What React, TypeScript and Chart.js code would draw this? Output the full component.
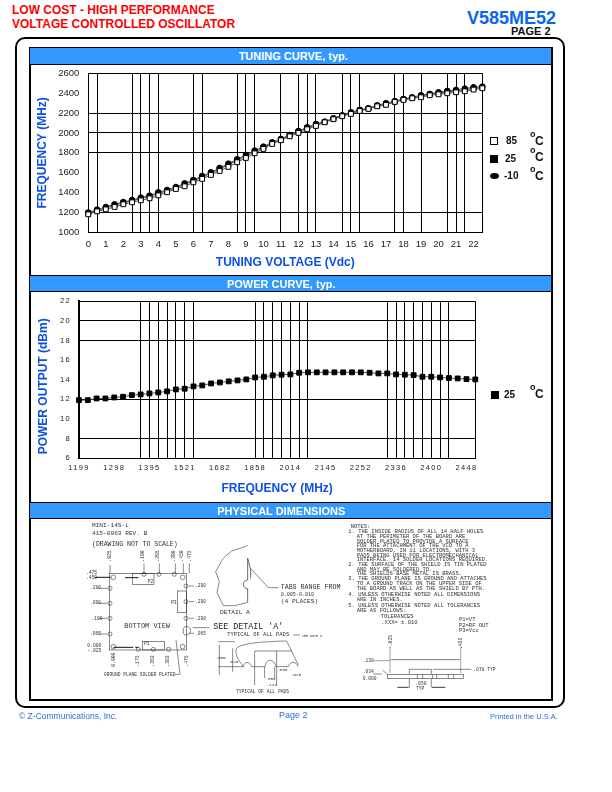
import React, { useEffect, useRef } from "react";
import { Chart, registerables } from "chart.js";

Chart.register(...registerables);

const FONT = '"Liberation Sans", Arial, sans-serif';
const MONO = '"Liberation Mono", monospace';
const BLUE = "#0b4fe8";

const tuningVolts = [0,0.5,1,1.5,2,2.5,3,3.5,4,4.5,5,5.5,6,6.5,7,7.5,8,8.5,9,9.5,10,10.5,11,11.5,12,12.5,13,13.5,14,14.5,15,15.5,16,16.5,17,17.5,18,18.5,19,19.5,20,20.5,21,21.5,22,22.5];
const freqMinus10 = [1200,1228,1255,1282,1305,1325,1349,1369,1403,1426,1456,1493,1527,1567,1604,1648,1691,1735,1779,1822,1862,1906,1940,1980,2020,2057,2090,2114,2148,2178,2208,2232,2248,2278,2299,2319,2342,2359,2379,2393,2409,2423,2433,2446,2460,2466];
const freq25 = [1192,1220,1246,1272,1296,1316,1339,1360,1392,1417,1447,1482,1517,1556,1592,1636,1679,1724,1767,1812,1853,1897,1933,1973,2012,2050,2083,2110,2143,2173,2201,2228,2245,2273,2291,2316,2337,2354,2370,2388,2400,2414,2423,2435,2449,2458];
const freq85 = [1181,1211,1231,1255,1282,1302,1322,1342,1372,1403,1436,1463,1503,1537,1577,1617,1658,1705,1748,1795,1839,1889,1926,1966,2000,2037,2070,2107,2138,2168,2191,2221,2242,2268,2282,2312,2332,2349,2359,2379,2389,2399,2409,2419,2436,2450];
const tuningVGrid = [0,0.5,2.5,3,3.5,4,6,6.5,8.5,9,9.5,11,12,12.5,13,14.5,15,15.5,17.5,18,19,20.5,21,21.5,22.5];
const tuningYGrid = [1000,1200,1800,2000,2200,2600];
const tuningYTicks = [1000,1200,1400,1600,1800,2000,2200,2400,2600];

const powerLabels = ["1199","","","","1298","","","","1395","","","","1521","","","","1682","","","","1858","","","","2014","","","","2145","","","","2252","","","","2336","","","","2400","","","","2448",""];
const powerDbm = [11.93,11.93,12.1,12.1,12.2,12.27,12.44,12.51,12.61,12.71,12.82,13.02,13.09,13.33,13.43,13.63,13.73,13.84,13.94,14.04,14.24,14.31,14.45,14.52,14.55,14.72,14.76,14.76,14.76,14.76,14.76,14.76,14.76,14.72,14.65,14.65,14.55,14.52,14.48,14.31,14.31,14.24,14.18,14.14,14.07,14.04];
const powerXGrid = [0,7,8,9,10,11,12,13,20,21,22,23,24,25,26,35,36,37,38,39,40,41,42,45];
const powerYGrid = [6,8,12,18,20,22];
const powerYTicks = [6,8,10,12,14,16,18,20,22];

const noteLines: [string, number, number][] = [
  ["NOTES:", 122, 34],
  ["1. THE INSIDE RADIUS OF ALL 14 HALF HOLES", 115, 50],
  ["AT THE PERIMETER OF THE BOARD ARE", 140, 64],
  ["SOLDER PLATED TO PROVIDE A SURFACE", 140, 78],
  ["FOR THE ATTACHMENT OF THE VCO TO A", 140, 92],
  ["MOTHERBOARD, IN 11 LOCATIONS, WITH 3", 140, 106],
  ["PADS BEING USED FOR ELECTROMECHANICAL", 140, 120],
  ["INTERFACE. 14 SOLDER LOCATIONS REQUIRED.", 140, 134],
  ["2. THE SURFACE OF THE SHIELD IS TIN PLATED", 115, 148],
  ["AND MAY BE SOLDERED TO.", 140, 162],
  ["THE SHIELDS BASE METAL IS BRASS.", 140, 176],
  ["3. THE GROUND PLANE IS GROUND AND ATTACHES", 115, 191],
  ["TO A GROUND TRACK ON THE UPPER SIDE OF", 140, 205],
  ["THE BOARD AS WELL AS THE SHIELD BY PTH.", 140, 219],
  ["4. UNLESS OTHERWISE NOTED ALL DIMENSIONS", 115, 237],
  ["ARE IN INCHES.", 140, 253],
  ["5. UNLESS OTHERWISE NOTED ALL TOLERANCES", 115, 271],
  ["ARE AS FOLLOWS:", 140, 287],
  ["TOLERANCES", 212, 305],
  [".XXX= \u00b1.010", 214, 323],
  ["P1=VT", 447, 314],
  ["P2=RF OUT", 447, 330],
  ["P3=Vcc", 447, 346],
];

function powerAxisTweaks(letterSpacing: string, titleShift: number) {
  return {
    id: "powerAxisTweaks",
    afterLayout(chart: any) {
      Object.values(chart.scales).forEach((scale: any) => {
        if (scale.__tweaked) return;
        scale.__tweaked = true;
        const origLabels = scale.drawLabels.bind(scale);
        scale.drawLabels = (area: any) => {
          const ctx = chart.ctx;
          ctx.save();
          ctx.letterSpacing = letterSpacing;
          origLabels(area);
          ctx.restore();
        };
        if (scale.axis === "y") {
          const origTitle = scale.drawTitle.bind(scale);
          scale.drawTitle = () => {
            const ctx = chart.ctx;
            ctx.save();
            ctx.translate(0, titleShift);
            origTitle();
            ctx.restore();
          };
        }
      });
    },
  };
}

function gridColor(vals: number[], v: number) {
  return vals.some((g) => Math.abs(g - v) < 0.001) ? "#000" : "rgba(0,0,0,0)";
}

const zeroPadY = (s: any, w: number) => { s.width = w; s.paddingTop = 0; s.paddingBottom = 0; };
const zeroPadX = (s: any, h: number) => { s.height = h; s.paddingLeft = 0; s.paddingRight = 0; };

function TuningChart() {
  const ref = useRef<HTMLCanvasElement>(null);
  useEffect(() => {
    const line = "#555";
    const chart = new Chart(ref.current!, {
      type: "line",
      data: {
        datasets: [
          { label: "-10 \u00b0C", data: tuningVolts.map((x, i) => ({ x, y: freqMinus10[i] })), borderColor: line, borderWidth: 1, pointStyle: "circle", pointRadius: 2.8, pointBackgroundColor: "#000", pointBorderColor: "#000", order: 3 },
          { label: "25 \u00b0C", data: tuningVolts.map((x, i) => ({ x, y: freq25[i] })), borderColor: line, borderWidth: 1, pointStyle: "rect", pointRadius: 3.4, pointBackgroundColor: "#000", pointBorderColor: "#000", order: 2 },
          { label: "85 \u00b0C", data: tuningVolts.map((x, i) => ({ x, y: freq85[i] })), borderColor: line, borderWidth: 1, pointStyle: "rect", pointRadius: 3.4, pointBackgroundColor: "#fff", pointBorderColor: "#000", pointBorderWidth: 1, order: 1 },
        ],
      },
      options: {
        animation: false,
        responsive: false,
        clip: false,
        layout: { padding: { top: 9.3, right: 67.7, left: 0, bottom: 0 } },
        plugins: { legend: { display: false }, tooltip: { enabled: false } },
        scales: {
          x: {
            type: "linear",
            min: 0,
            max: 22.5,
            afterBuildTicks: (s: any) => { s.ticks = tuningVolts.map((value) => ({ value })); },
            afterFit: (s: any) => zeroPadX(s, 42.7),
            grid: { drawTicks: false, lineWidth: 1, color: (c: any) => gridColor(tuningVGrid, c.tick?.value) },
            border: { color: "#000", width: 1 },
            ticks: { autoSkip: false, maxRotation: 0, padding: 6, color: "#222", font: { family: FONT, size: 9.5 }, callback: (v: any) => (Number.isInteger(v) ? String(v) : "") },
            title: { display: true, text: "TUNING VOLTAGE (Vdc)", color: BLUE, padding: { top: 0, bottom: 5 }, font: { family: FONT, size: 12, weight: "bold" } },
          },
          y: {
            min: 1000,
            max: 2600,
            afterBuildTicks: (s: any) => { s.ticks = tuningYTicks.map((value) => ({ value })); },
            afterFit: (s: any) => zeroPadY(s, 58.3),
            grid: { drawTicks: false, lineWidth: 1, color: (c: any) => gridColor(tuningYGrid, c.tick?.value) },
            border: { color: "#000", width: 1 },
            ticks: { padding: 9, color: "#222", font: { family: FONT, size: 9.5 }, callback: (v: any) => String(v) },
            title: { display: true, text: "FREQUENCY (MHz)", color: BLUE, padding: { top: 5, bottom: 0 }, font: { family: FONT, size: 12, weight: "bold" } },
          },
        },
      },
    } as any);
    return () => chart.destroy();
  }, []);
  return <canvas ref={ref} width={520} height={211} style={{ position: "absolute", left: 30, top: 64, width: 520, height: 211 }} />;
}

function PowerChart() {
  const ref = useRef<HTMLCanvasElement>(null);
  useEffect(() => {
    const chart = new Chart(ref.current!, {
      type: "line",
      data: {
        labels: powerLabels,
        datasets: [
          { label: "25 \u00b0C", data: powerDbm, borderColor: "#555", borderWidth: 1, pointStyle: "rect", pointRadius: 3.4, pointBackgroundColor: "#000", pointBorderColor: "#000" },
        ],
      },
      options: {
        animation: false,
        responsive: false,
        clip: false,
        layout: { padding: { top: 10.3, right: 74.7, left: 0, bottom: 0 } },
        plugins: { legend: { display: false }, tooltip: { enabled: false } },
        scales: {
          x: {
            type: "category",
            offset: false,
            afterFit: (s: any) => zeroPadX(s, 43.7),
            grid: { drawTicks: false, lineWidth: 1, color: (c: any) => gridColor(powerXGrid, c.index) },
            border: { color: "#000", width: 1 },
            ticks: { autoSkip: false, maxRotation: 0, padding: 5, color: "#222", font: { family: FONT, size: 7.5 } },
            title: { display: true, text: "FREQUENCY (MHz)", color: BLUE, padding: { top: 0, bottom: 6 }, font: { family: FONT, size: 12, weight: "bold" } },
          },
          y: {
            min: 6,
            max: 22,
            afterBuildTicks: (s: any) => { s.ticks = powerYTicks.map((value) => ({ value })); },
            afterFit: (s: any) => zeroPadY(s, 49),
            grid: { drawTicks: false, lineWidth: 1, color: (c: any) => gridColor(powerYGrid, c.tick?.value) },
            border: { color: "#000", width: 2 },
            ticks: { padding: 8, color: "#222", font: { family: FONT, size: 7.5 } },
            title: { display: true, text: "POWER OUTPUT (dBm)", color: BLUE, padding: { top: 6, bottom: 0 }, font: { family: FONT, size: 12, weight: "bold" } },
          },
        },
      },
      plugins: [powerAxisTweaks("1.3px", 6.5)],
    } as any);
    return () => chart.destroy();
  }, []);
  return <canvas ref={ref} width={520} height={211} style={{ position: "absolute", left: 30, top: 291, width: 520, height: 211 }} />;
}

const abs = (left: number, top: number, extra: React.CSSProperties = {}): React.CSSProperties => ({ position: "absolute", left, top, whiteSpace: "nowrap", fontFamily: FONT, lineHeight: 1, ...extra });

function Band({ top, text, shift }: { top: number; text: string; shift: number }) {
  return (
    <div style={{ position: "absolute", left: 30, top, width: 520.5, height: 15.5, background: "#3399ff", borderTop: "1.5px solid #000", borderBottom: "1.5px solid #000" }}>
      <div style={{ position: "absolute", left: shift, width: 520.5, color: "#fff", fontFamily: FONT, fontWeight: "bold", fontSize: 11, lineHeight: "16px", textAlign: "center" }}>{text}</div>
    </div>
  );
}

function LegendRow({ top, left, label, mark, deg }: { top: number; left: number; label: string; mark: React.ReactNode; deg: number }) {
  return (
    <>
      {mark}
      <div style={abs(left, top, { fontSize: 10, fontWeight: "bold", color: "#111" })}>{label}</div>
      <div style={abs(530, deg - 5, { fontSize: 9, fontWeight: "bold", color: "#111" })}>o</div>
      <div style={abs(535, deg, { fontSize: 12, fontWeight: "bold", color: "#111" })}>C</div>
    </>
  );
}

function Drawing() {
  const s = { stroke: "#222", strokeWidth: 1.6, fill: "none" } as const;
  const t = { fontFamily: MONO, fontSize: 16.5, fill: "#333" } as const;
  const holes: [number, number, number][] = [[130,187,7],[338,187,7],[130,395,7],[338,395,7],[222,178,6],[267,178,6],[313,178,6],[120,220,6],[120,265,6],[120,310,6],[120,357,6],[348,213,6],[348,260,6],[348,310,6],[205,403,6],[250,403,6],[296,403,6]];
  const dims: [string, number, number][] = [[".475",48,176],[".450",48,191],[".290",60,223],[".090",60,268],[".190",64,314],[".065",60,360],["0.000",52,396],["-.025",52,410],[".290",375,217],[".290",375,263],[".290",375,314],[".065",375,361]];
  const vdims: [string, number, number][] = [[".825",122,140],[".190",222,140],[".295",268,140],[".390",316,140],[".450",340,140],[".475",362,140],["0.000",136,455],[".175",207,455],[".263",252,455],[".363",298,455],[".475",355,455]];
  return (
    <svg width={612} height={792} style={{ position: "absolute", left: 0, top: 0 }}>
      <g transform="translate(70,515) scale(0.3333)">
        <text {...t} fontSize={18.5} x={66} y={36}>MINI-14S-L</text>
        <text {...t} fontSize={18.5} x={66} y={60}>415-0063 REV. B</text>
        <text {...t} fontSize={19.5} x={66} y={93}>(DRAWING NOT TO SCALE)</text>
        <rect {...s} x={118} y={175} width={232} height={230} />
        <rect {...s} x={188} y={175} width={64} height={33} />
        <rect {...s} x={322} y={228} width={28} height={64} />
        <rect {...s} x={217} y={380} width={67} height={25} />
        {holes.map(([x, y, r], i) => <circle key={i} {...s} cx={x} cy={y} r={r} />)}
        <path d="M75 187H122M165 188H205M130 397H205" stroke="#111" strokeWidth={3} fill="none" strokeDasharray="60 6" />
        <path {...s} d="M120 150V175M222 145V175M268 145V175M316 145V175M340 145V175M358 145V175M85 220H112M85 265H112M85 310H112M85 357H112M356 213H372M356 260H372M356 310H372M356 355H372" />
        <path {...s} d="M340 340C345 330 360 335 362 345C362 360 345 365 340 355Z" />
        <path {...s} d="M368 338H418M318 375L330 478H316" />
        {dims.map(([v, x, y], i) => <text key={i} {...t} fontSize={14} x={x} y={y}>{v}</text>)}
        {vdims.map(([v, x, y], i) => <text key={i} {...t} fontSize={14} transform={`translate(${x},${y}) rotate(-90)`}>{v}</text>)}
        <text {...t} fontSize={20.8} x={163} y={338}>BOTTOM VIEW</text>
        <text {...t} fontSize={14} x={303} y={267}>P3</text>
        <text {...t} fontSize={14} x={233} y={203}>P2</text>
        <text {...t} fontSize={14} x={222} y={391}>P1</text>
        <text {...t} fontSize={13.8} x={102} y={482}>GROUND PLANE SOLDER PLATED</text>
        <path {...s} d="M533 92L510 100L485 108L465 125L458 132L437 170L448 200L441 232L460 272L495 272L533 262" />
        <path {...s} strokeWidth={2} d="M533 130V195A13 13 0 0 0 533 221V262M533 130L542 165V190" />
        <path {...s} d="M542 160L595 218H625" />
        <text {...t} fontSize={18.7} x={450} y={298}>DETAIL A</text>
        <text {...t} fontSize={20} x={632} y={223}>TABS RANGE FROM</text>
        <text {...t} fontSize={15.3} x={632} y={244}>0.005-0.010</text>
        <text {...t} fontSize={18.8} x={632} y={265}>(4 PLACES)</text>
        <text fontFamily={MONO} fontSize={25} fill="#222" x={430} y={342}>SEE DETAIL 'A'</text>
        <text {...t} fontSize={16.3} x={472} y={364}>TYPICAL OF ALL PADS</text>
        <text {...t} fontSize={10} x={696} y={365}>SEE NOTE 3</text>
        <path {...s} d="M445 380H495M445 455H520M498 402C510 385 570 380 650 378L685 450M498 402C495 425 510 440 520 455C522 438 540 438 545 455H585C588 430 612 430 618 455H655C660 438 680 438 684 455" />
        <path {...s} d="M554 408V510M620 408V510M584 455V490M614 455V490M555 408H665M488 400V470M448 390V480M670 360H690" />
        <text {...t} fontSize={13} x={436} y={433}>.065</text>
        <text {...t} fontSize={13} x={474} y={443}>.020</text>
        <text {...t} fontSize={13} x={621} y={468}>.030</text>
        <text {...t} fontSize={13} x={662} y={483}>.025</text>
        <text {...t} fontSize={13} x={586} y={496}>.050</text>
        <text {...t} fontSize={13} x={590} y={514}>.114</text>
        <text {...t} fontSize={14} x={498} y={534}>TYPICAL OF ALL PADS</text>
      </g>
      <g transform="translate(310,515) scale(0.3333)">
        {noteLines.map(([v, x, y], i) => <text key={i} {...t} x={x} y={y + 5}>{v}</text>)}
        <path {...s} stroke="#555" d="M240 395V474M452 395V474M190 437H240" />
        <path stroke="#777" strokeWidth={3} d="M242 434H450" fill="none" />
        <rect {...s} x={232} y={478} width={229} height={13} />
        <path {...s} d="M298 478V463H364V478M322 478V491M338 478V491M368 478V491M380 478V491M415 478V491M431 478V491M298 491V518M364 491V518M370 463H484M190 477H216M218 466L230 476" />
        <path stroke="#111" strokeWidth={2.5} d="M262 517H296M366 517H406" fill="none" />
        <text {...t} fontSize={14} transform="translate(245,402) rotate(-90)">-.025</text>
        <text {...t} fontSize={14} transform="translate(457,402) rotate(-90)">.465</text>
        <text {...t} fontSize={14} x={158} y={441}>.130</text>
        <text {...t} fontSize={14} x={158} y={475}>.034</text>
        <text {...t} fontSize={14} x={158} y={494}>0.000</text>
        <text {...t} fontSize={14} x={490} y={468}>.078 TYP</text>
        <text {...t} fontSize={14} x={316} y={510}>.050</text>
        <text {...t} fontSize={14} x={318} y={525}>TYP</text>
      </g>
    </svg>
  );
}

export default function App() {
  return (
    <div style={{ position: "absolute", left: 0, top: 0, width: 612, height: 792, background: "#fff", overflow: "hidden" }}>
      <div style={abs(12, 4, { fontSize: 12, fontWeight: "bold", color: "#ff0000" })}>LOW COST - HIGH PERFORMANCE</div>
      <div style={abs(12, 18, { fontSize: 12, fontWeight: "bold", color: "#ff0000" })}>VOLTAGE CONTROLLED OSCILLATOR</div>
      <div style={abs(467, 9, { fontSize: 18, fontWeight: "bold", color: "#0a66f0" })}>V585ME52</div>
      <div style={abs(511, 26, { fontSize: 11, fontWeight: "bold", color: "#111" })}>PAGE 2</div>

      <div style={{ position: "absolute", left: 15, top: 36.5, width: 546, height: 667, border: "2.5px solid #000", borderRadius: 10 }} />
      <div style={{ position: "absolute", left: 28.5, top: 46.5, width: 520.5, height: 650.5, border: "2.5px solid #000" }} />

      <Band top={47} text="TUNING CURVE, typ." shift={3} />
      <TuningChart />
      <Band top={274.5} text="POWER CURVE, typ." shift={-9} />
      <PowerChart />
      <Band top={501.5} text="PHYSICAL DIMENSIONS" shift={-9} />

      <LegendRow top={136} left={506} label="85" deg={135}
        mark={<div style={{ position: "absolute", left: 490, top: 137, width: 6, height: 6, border: "1px solid #000", background: "#fff" }} />} />
      <LegendRow top={154} left={505} label="25" deg={151}
        mark={<div style={{ position: "absolute", left: 490, top: 155, width: 8, height: 8, background: "#000" }} />} />
      <LegendRow top={171} left={504} label="-10" deg={170}
        mark={<div style={{ position: "absolute", left: 490, top: 173, width: 9, height: 6, borderRadius: "50%", background: "#000" }} />} />

      <LegendRow top={390} left={504} label="25" deg={388}
        mark={<div style={{ position: "absolute", left: 491, top: 391, width: 8, height: 8, background: "#000" }} />} />

      <Drawing />

      <div style={abs(19, 712, { fontSize: 8.5, color: "#2f6fd8" })}>© Z-Communications, Inc.</div>
      <div style={abs(279, 711, { fontSize: 9, color: "#2f6fd8" })}>Page 2</div>
      <div style={abs(490, 712.5, { fontSize: 7.5, color: "#2f6fd8" })}>Printed in the U.S.A.</div>
    </div>
  );
}
